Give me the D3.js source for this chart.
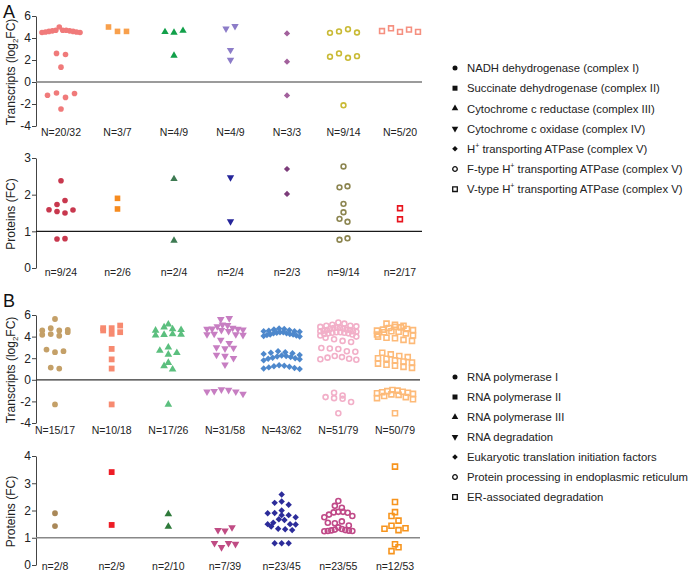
<!DOCTYPE html>
<html><head><meta charset="utf-8">
<script src="https://cdn.jsdelivr.net/npm/d3@7"></script>
<style>body{margin:0;background:#fff}svg{display:block;font-family:"Liberation Sans",Arial,sans-serif}</style>
</head><body><svg id="c" width="696" height="573"></svg>
<script>
// ---------- DATA ----------
const legendA = ["NADH dehydrogenase (complex I)","Succinate dehydrogenase (complex II)","Cytochrome c reductase (complex III)","Cytochrome c oxidase (complex IV)","H|+| transporting ATPase (complex V)","F-type H|+| transporting ATPase (complex V)","V-type H|+| transporting ATPase (complex V)"];
const legendB = ["RNA polymerase I","RNA polymerase II","RNA polymerase III","RNA degradation","Eukaryotic translation initiation factors","Protein processing in endoplasmic reticulum","ER-associated degradation"];

const aTransLabels = ["N=20/32","N=3/7","N=4/9","N=4/9","N=3/3","N=9/14","N=5/20"];
const aProtLabels  = ["n=9/24","n=2/6","n=2/4","n=2/4","n=2/3","n=9/14","n=2/17"];
const bTransLabels = ["N=15/17","N=10/18","N=17/26","N=31/58","N=43/62","N=51/79","N=50/79"];
const bProtLabels  = ["n=2/8","n=2/9","n=2/10","n=7/39","n=23/45","n=23/55","n=12/53"];

const aTransTicks = [-4,-2,0,2,4,6];
const aProtTicks = [0,1,2,3];
const bTransTicks = [-4,-2,0,2,4,6];
const bProtTicks = [0,1,2,3,4];

const aTranscripts = [
  [4.65,4.7,4.55,4.6,4.5,4.7,5.0,4.55,4.65,4.7,4.5,4.6,2.6,2.5,1.35,-1.2,-1.0,-1.4,-1.05,-2.45],
  [5.0,4.6,4.6],
  [4.55,4.5,4.67,2.4],
  [4.85,5.07,2.9,2.0],
  [4.42,1.85,-1.22],
  [4.47,4.6,4.8,4.5,2.3,2.6,2.2,2.35,-2.12],
  [4.63,4.88,4.56,4.76,4.56]
];
const aProteins = [
  [2.38,1.59,1.54,1.73,1.5,1.84,1.58,0.79,0.8],
  [1.61,1.9],
  [2.43,0.75],
  [2.47,1.27],
  [2.7,2.02],
  [2.77,2.2,2.23,1.75,1.52,1.34,1.26,0.77,0.81],
  [1.63,1.33]
];
const bTranscripts = [
  [4.57,4.78,4.17,4.23,4.57,5.63,4.08,4.63,4.41,2.8,2.56,2.65,1.13,1.04,-2.28],
  [4.57,4.78,4.26,4.78,5.02,4.41,2.86,1.89,1.04,-2.28],
  [4.57,4.87,4.11,4.69,5.14,4.17,4.23,4.63,4.2,2.71,3.01,2.34,2.5,1.28,0.97,1.58,-2.28],
  [5.6,5.7,5.1,5.05,4.95,4.7,4.8,4.72,4.65,4.7,4.6,4.5,4.2,4.25,4.15,4.2,3.7,3.4,3.0,2.9,2.95,2.3,2.2,2.0,1.4,-0.9,-1.05,-1.1,-1.3,-1.1,-0.95],
  [4.75,4.7,4.6,4.65,4.55,4.5,4.5,4.45,4.4,4.4,4.35,4.3,4.3,4.25,4.2,4.2,4.15,4.1,4.05,4.0,
   2.65,2.55,2.5,2.45,2.4,2.3,2.25,2.2,2.15,2.1,2.05,2.0,1.95,1.9,1.8,
   1.35,1.3,1.25,1.2,1.15,1.1,1.05,1.0],
  [5.3,5.2,5.1,5.0,5.0,4.95,4.9,4.85,4.8,4.8,4.75,4.7,4.65,4.6,4.6,4.55,4.5,4.5,4.45,4.4,4.4,4.35,4.35,4.3,4.3,4.25,4.2,4.1,4.0,3.9,
   3.75,3.6,3.5,2.95,2.9,2.85,2.65,2.6,2.2,2.1,2.05,1.95,1.9,1.85,
   -1.2,-1.45,-1.6,-1.7,-1.75,-2.05,-3.1],
  [5.2,5.1,5.0,4.9,4.85,4.8,4.7,4.65,4.6,4.55,4.5,4.45,4.4,4.3,4.2,4.1,4.0,3.9,3.85,3.7,3.6,
   2.5,2.35,2.2,2.1,2.0,1.95,1.8,1.7,1.6,1.5,1.4,1.3,1.2,1.1,
   -0.95,-1.0,-1.05,-1.1,-1.15,-1.2,-1.25,-1.3,-1.35,-1.4,-1.5,-1.6,-1.7,-1.8,-3.1]
];
const bProteins = [
  [1.9,1.43],
  [1.47,3.41],
  [1.87,1.41],
  [1.28,1.26,1.38,0.8,0.65,0.8,0.77],
  [2.59,2.28,2.33,2.21,1.9,2.0,1.91,1.83,1.83,1.75,1.65,1.68,1.5,1.49,1.5,1.41,1.33,1.31,1.28,1.55,0.8,0.8,0.8],
  [2.35,2.17,2.1,1.95,1.93,1.95,1.92,1.8,1.75,1.85,1.55,1.53,1.6,1.32,1.26,1.25,1.27,1.24,1.25,1.38,1.3,1.28,1.45],
  [3.61,2.31,1.94,1.8,1.63,1.33,1.44,1.28,1.35,0.76,0.51,0.65]
];

const aTransColors = ["#F07A7A","#F8A04C","#12A04A","#8C7CC8","#A2609C","#C9BA35","#F59080"];
const aProtColors  = ["#C8384E","#F68B1F","#3D7A52","#25259A","#7C3C7A","#8C8550","#E8151E"];
const bTransColors = ["#C4A068","#F78A70","#5BBF7E","#C77EC2","#4E88CC","#F2AFC8","#FDBA78"];
const bProtColors  = ["#A98858","#EE1C25","#2E7A3A","#C04C84","#2C2C9A","#C04A88","#F7941D"];

// ---------- DRAW ----------
const svg = d3.select("#c");
const FONT = '"Liberation Sans",Arial,sans-serif';

function shapePath(i, s) {
  if (i === 0 || i === 5) return d3.symbol(d3.symbolCircle, Math.PI * (s/2) * (s/2))();
  if (i === 1 || i === 6) return d3.symbol(d3.symbolSquare, s * s)();
  if (i === 2 || i === 3) return d3.symbol(d3.symbolTriangle, s * s * 0.75)();
  return d3.symbol(d3.symbolSquare, s * s * 0.62)();
}
function shapeTransform(i) {
  if (i === 3) return " rotate(180)";
  if (i === 4) return " rotate(45)";
  return "";
}

// Prism-like row layout: group close values into rows, spread each row horizontally
function rowLayout(vals, bin, sp, maxW) {
  const idx = vals.map((v, i) => i).sort((a, b) => vals[a] - vals[b]);
  const groups = [];
  let cur = null;
  for (const i of idx) {
    if (!cur || vals[i] - vals[cur[0]] > bin) { cur = [i]; groups.push(cur); }
    else cur.push(i);
  }
  const xs = new Array(vals.length).fill(0);
  for (const g of groups) {
    const n = g.length;
    const s = n > 1 ? Math.min(sp, maxW / (n - 1)) : 0;
    let order;
    if (n > 5) {
      // highest in the middle, alternating outwards
      const desc = g.slice().sort((a, b) => vals[b] - vals[a]);
      const slots = new Array(n);
      const mid = Math.floor((n - 1) / 2);
      desc.forEach((id, k) => {
        const off = Math.ceil(k / 2) * (k % 2 === 1 ? 1 : -1);
        slots[mid + off] = id;
      });
      order = slots;
    } else order = g.slice().sort((a, b) => a - b);
    order.forEach((id, k) => { xs[id] = (k - (n - 1) / 2) * s; });
  }
  return xs;
}

function panel(cfg) {
  const g = svg.append("g");
  const y = d3.scaleLinear().domain(cfg.domain).range([cfg.bottom, cfg.top]);
  const x = d3.scalePoint().domain(d3.range(cfg.values.length)).range(cfg.xr);
  const axis = d3.axisLeft(y).tickValues(cfg.ticks).tickSize(4).tickSizeOuter(0).tickFormat(d3.format("d"));
  const ag = g.append("g").attr("transform", `translate(${cfg.axisX},0)`).call(axis);
  ag.select(".domain").attr("stroke", "#444").attr("stroke-width", 1);
  ag.selectAll(".tick line").attr("stroke", "#444");
  ag.selectAll(".tick text").attr("font-size", 12).attr("font-family", FONT).attr("fill", "#222").attr("x", -5)
    .text(d => d < 0 ? "-" + Math.abs(d) : d);
  g.append("line").attr("x1", cfg.axisX).attr("x2", cfg.lineEnd)
    .attr("y1", y(cfg.ref)).attr("y2", y(cfg.ref))
    .attr("stroke", cfg.refColor).attr("stroke-width", 1.3);
  const t = g.append("text").attr("transform", `translate(15,${(cfg.top + cfg.bottom) / 2 + 1}) rotate(-90)`)
    .attr("text-anchor", "middle").attr("font-size", 12).attr("font-family", FONT).attr("fill", "#222");
  if (cfg.log) {
    t.append("tspan").text("Transcripts (log");
    t.append("tspan").attr("font-size", 8).attr("dy", 3).text("2");
    t.append("tspan").attr("dy", -3).text("FC)");
  } else t.text("Proteins (FC)");
  cfg.values.forEach((vals, ci) => {
    const ys = vals.map(v => y(v));
    const offs = rowLayout(vals, cfg.bin, cfg.sp, cfg.maxW);
    const open = ci >= 5;
    const col = cfg.colors[ci];
    const ms = open ? cfg.size - 0.8 : cfg.size;
    g.append("g").selectAll("path").data(vals).join("path")
      .attr("d", shapePath(ci, ms))
      .attr("transform", (v, k) => `translate(${x(ci) + offs[k]},${ys[k]})` + shapeTransform(ci))
      .attr("fill", open ? "none" : col)
      .attr("stroke", open ? col : "none")
      .attr("stroke-width", open ? 1.6 : 0);
  });
  g.append("g").selectAll("text").data(cfg.labels).join("text")
    .attr("x", (d, i) => x(i)).attr("y", cfg.labelY)
    .attr("text-anchor", "middle").attr("font-size", 10.5).attr("font-family", FONT).attr("fill", "#222")
    .text(d => d);
}

panel({values: aTranscripts, colors: aTransColors, labels: aTransLabels, domain: [-4, 6], ticks: aTransTicks,
  top: 16, bottom: 126, ref: 0, refColor: "#7a7a7a", log: true, xr: [61, 400], axisX: 36, lineEnd: 422, labelY: 136,
  bin: 0.5, sp: 9, maxW: 38, size: 5.6});
panel({values: aProteins, colors: aProtColors, labels: aProtLabels, domain: [0, 3], ticks: aProtTicks,
  top: 158, bottom: 268, ref: 1, refColor: "#1a1a1a", log: false, xr: [61, 400], axisX: 36, lineEnd: 422, labelY: 276,
  bin: 0.15, sp: 8, maxW: 30, size: 5.6});
panel({values: bTranscripts, colors: bTransColors, labels: bTransLabels, domain: [-4, 6], ticks: bTransTicks,
  top: 315, bottom: 423, ref: 0, refColor: "#333", log: true, xr: [55, 395], axisX: 36, lineEnd: 420, labelY: 434,
  bin: 0.45, sp: 8.5, maxW: 36, size: 5.8});
panel({values: bProteins, colors: bProtColors, labels: bProtLabels, domain: [0, 4], ticks: bProtTicks,
  top: 456, bottom: 565, ref: 1, refColor: "#888", log: false, xr: [55, 395], axisX: 36, lineEnd: 420, labelY: 570,
  bin: 0.2, sp: 7, maxW: 28, size: 5.8});

svg.append("text").attr("x", 3).attr("y", 18).attr("font-size", 18).attr("font-family", FONT).attr("fill", "#111").text("A");
svg.append("text").attr("x", 3).attr("y", 307).attr("font-size", 18).attr("font-family", FONT).attr("fill", "#111").text("B");

function legend(items, x0, y0, step) {
  const g = svg.append("g");
  items.forEach((name, i) => {
    const yy = y0 + i * step;
    const open = i >= 5;
    g.append("path").attr("d", shapePath(i, open ? 4.6 : 5))
      .attr("transform", `translate(${x0},${yy})` + shapeTransform(i))
      .attr("fill", open ? "none" : "#111").attr("stroke", open ? "#111" : "none").attr("stroke-width", 1.3);
    const t = g.append("text").attr("x", x0 + 12).attr("y", yy + 4.2).attr("font-size", 11.3).attr("font-family", FONT).attr("fill", "#222");
    const parts = name.split("|");
    parts.forEach((p, k) => {
      if (k % 2 === 1) t.append("tspan").attr("font-size", 7).attr("dy", -5).text(p);
      else t.append("tspan").attr("dy", k > 0 ? 5 : 0).text(p);
    });
  });
}
legend(legendA, 455, 68, 20.2);
legend(legendB, 455, 377, 20);
</script></body></html>
